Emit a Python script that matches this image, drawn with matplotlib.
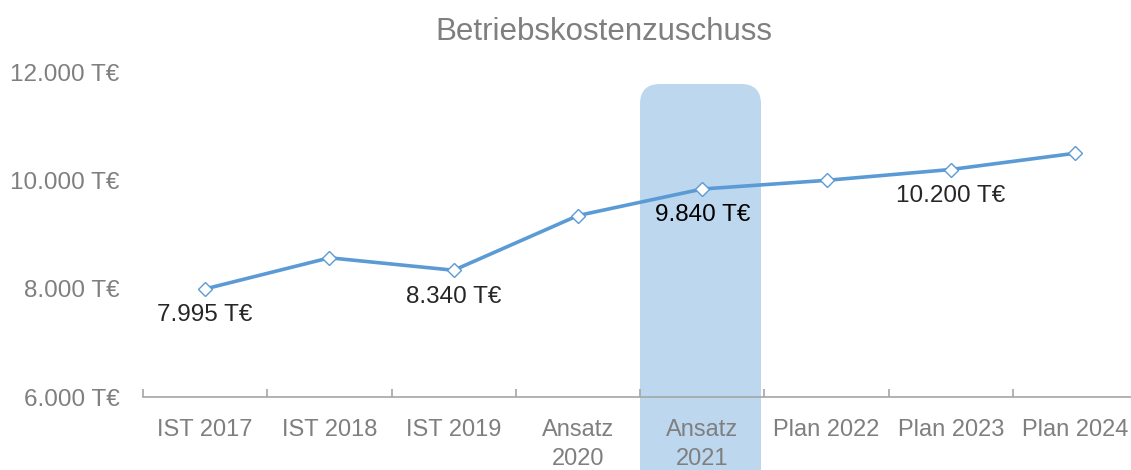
import matplotlib.pyplot as plt
from matplotlib.patches import FancyBboxPatch

# chart data
categories = ["IST 2017", "IST 2018", "IST 2019", "Ansatz\n2020", "Ansatz\n2021",
              "Plan 2022", "Plan 2023", "Plan 2024"]
values = [7995, 8570, 8340, 9350, 9840, 10000, 10200, 10500]
# which points get a value label
labelled = [0, 2, 4, 6]
highlight = 4

BLUE = "#5B9BD5"
GREY = "#7F7F7F"

plt.rcParams['font.family'] = ['Liberation Sans', 'DejaVu Sans']

fig = plt.figure(figsize=(11.31, 4.70), dpi=100)
ax = fig.add_axes([143 / 1131, 73 / 470, 1 - 143 / 1131, 325 / 470])

x = list(range(len(categories)))

# highlighted column behind Ansatz 2021 (drawn in inches so the corners stay round)
hl = FancyBboxPatch((6.40, -0.4), 1.21, 4.26,
                    boxstyle="round,pad=0,rounding_size=0.2",
                    transform=fig.dpi_scale_trans,
                    facecolor="#BDD7EE", edgecolor="none",
                    clip_on=False, zorder=0)
ax.add_patch(hl)

ax.plot(x, values, color=BLUE, linewidth=2.6, marker="D", markersize=7.5,
        markerfacecolor="white", markeredgecolor=BLUE, markeredgewidth=1.0,
        zorder=3)

for i in labelled:
    txt = f"{values[i]:,} T€".replace(",", ".")
    color = "black" if i == highlight else "#262626"
    ax.annotate(txt, (x[i], values[i]), xytext=(0, -19), textcoords="offset points",
                ha="center", va="center", fontsize=17.5, color=color, zorder=4)

ax.set_xlim(-0.5, 7.45)
ax.set_ylim(6000, 12000)
ax.set_yticks([6000, 8000, 10000, 12000])
ax.set_yticklabels([f"{v:,} T€".replace(",", ".") for v in [6000, 8000, 10000, 12000]])
ax.set_xticks(x)
ax.set_xticklabels(categories, linespacing=1.4)
ax.set_xticks([i - 0.5 for i in range(len(categories))], minor=True)

for side in ["left", "right", "top"]:
    ax.spines[side].set_visible(False)
ax.spines["bottom"].set_color("#A6A6A6")
ax.spines["bottom"].set_linewidth(1.2)

ax.tick_params(axis="y", length=0, pad=17, labelsize=17.5, labelcolor=GREY)
ax.tick_params(axis="x", which="major", length=0, pad=16, labelsize=17, labelcolor=GREY)
ax.tick_params(axis="x", which="minor", direction="in", length=6, color="#A6A6A6", width=1.2)

fig.text(604 / 1131, 1 - 32 / 470, "Betriebskostenzuschuss", fontsize=22.5,
         color=GREY, ha="center", va="center")

fig.savefig("out.png", dpi=100)
